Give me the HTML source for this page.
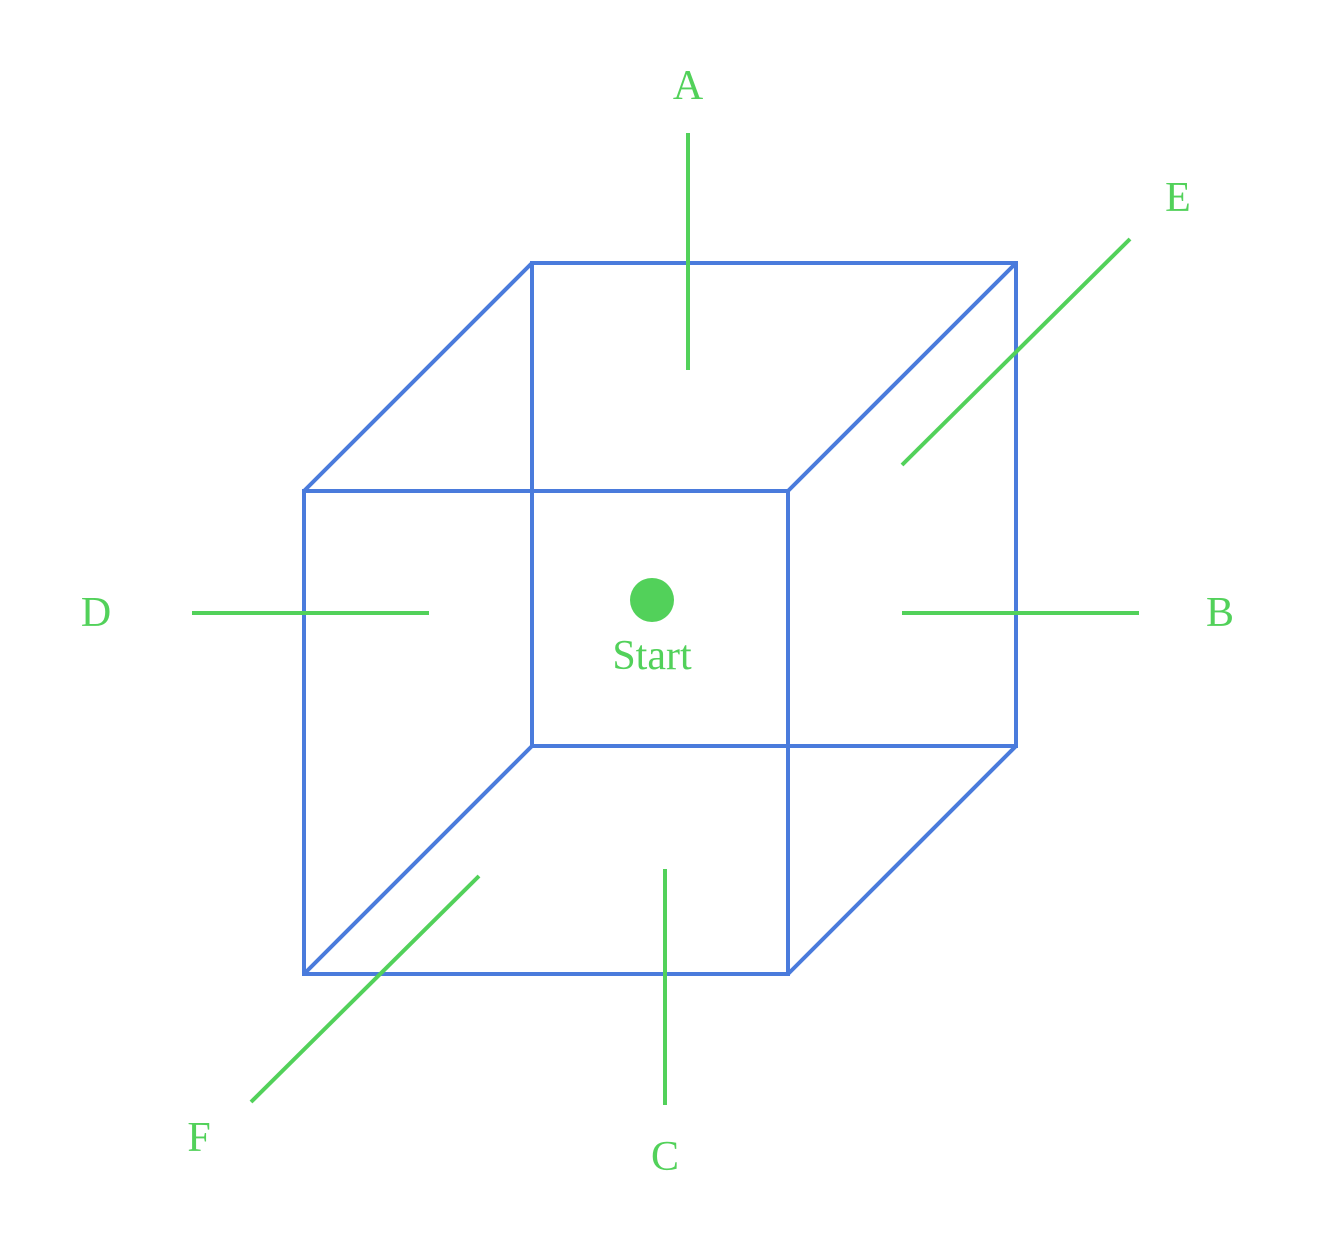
<!DOCTYPE html>
<html>
<head>
<meta charset="utf-8">
<style>
  html,body{margin:0;padding:0;background:#fff;}
  svg{display:block;}
  text{font-family:"Liberation Serif",serif;fill:#52d15a;font-size:42px;text-anchor:middle;dominant-baseline:central;}
</style>
</head>
<body>
<svg width="1325" height="1233" viewBox="0 0 1325 1233">
  <g stroke="#4a7bdc" stroke-width="4" fill="none" stroke-linejoin="miter">
    <rect x="304" y="491" width="484" height="483"/>
    <rect x="532" y="263" width="484" height="483"/>
    <line x1="304" y1="491" x2="532" y2="263"/>
    <line x1="788" y1="491" x2="1016" y2="263"/>
    <line x1="304" y1="974" x2="532" y2="746"/>
    <line x1="788" y1="974" x2="1016" y2="746"/>
  </g>
  <g stroke="#52d15a" stroke-width="4">
    <line x1="688" y1="133" x2="688" y2="370"/>
    <line x1="1130" y1="239" x2="902" y2="465"/>
    <line x1="192" y1="613" x2="429" y2="613"/>
    <line x1="902" y1="613" x2="1139" y2="613"/>
    <line x1="665" y1="869" x2="665" y2="1105"/>
    <line x1="479" y1="876" x2="251" y2="1102"/>
  </g>
  <circle cx="652" cy="600" r="22" fill="#52d15a"/>
  <text x="652" y="656">Start</text>
  <text x="688" y="86">A</text>
  <text x="1178" y="198">E</text>
  <text x="96" y="613">D</text>
  <text x="1220" y="613">B</text>
  <text x="665" y="1157">C</text>
  <text x="199" y="1138">F</text>
</svg>
</body>
</html>
